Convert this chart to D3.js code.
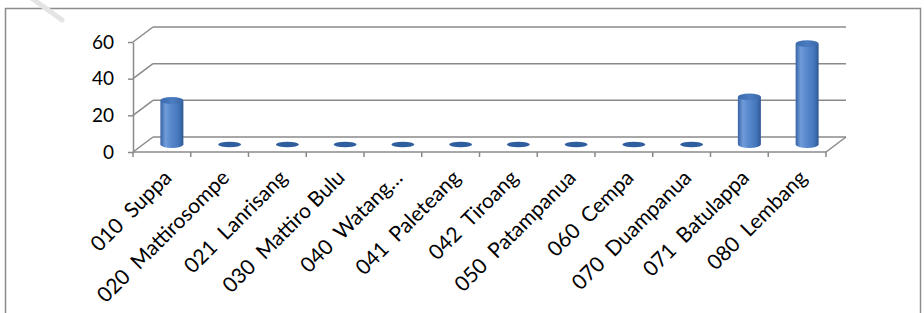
<!DOCTYPE html>
<html>
<head>
<meta charset="utf-8">
<script src="https://cdn.jsdelivr.net/npm/d3@7"></script>
<style>
  html, body { margin: 0; padding: 0; background: #fff; }
  svg { display: block; }
  text { font-family: Lato, "Open Sans", sans-serif; fill: #000; white-space: pre; }
</style>
</head>
<body>
<svg id="chart" width="924" height="313"></svg>
<script>
// ---- data ----
const categories = [
  "010  Suppa", "020  Mattirosompe", "021  Lanrisang", "030  Mattiro Bulu",
  "040  Watang\u2026", "041  Paleteang", "042  Tiroang", "050  Patampanua",
  "060  Cempa", "070  Duampanua", "071  Batulappa", "080  Lembang"
];
const values = [24, 0, 0, 0, 0, 0, 0, 0, 0, 0, 26, 55];
const yTicks = [0, 20, 40, 60];

// ---- layout ----
(function () {
const svg = d3.select("#chart");
const pLeft = 133, pRight = 826, pBottom = 152, pTop = 42;
const dx = 20, dy = -15; // depth offset
const x = d3.scaleBand().domain(categories).range([pLeft, pRight]).padding(0);
const xEdge = d3.scaleLinear().domain([0, categories.length]).range([pLeft, pRight]);
const y = d3.scaleLinear().domain([0, 60]).range([pBottom, pTop]);
const grid = "#8a8a8a";

// defs: gradients
const defs = svg.append("defs");
const gBody = defs.append("linearGradient").attr("id", "body").attr("x1", 0).attr("x2", 1).attr("y1", 0).attr("y2", 0);
[[0, "#3763a6"], [0.22, "#6f9bd8"], [0.45, "#5a8ace"], [0.8, "#4476bb"], [1, "#2f5892"]]
  .forEach(([o, c]) => gBody.append("stop").attr("offset", o).attr("stop-color", c));
const gTop = defs.append("linearGradient").attr("id", "cap").attr("x1", 0).attr("x2", 1).attr("y1", 0).attr("y2", 0);
[[0, "#3b6aad"], [0.5, "#4a7cc0"], [1, "#3a68a8"]]
  .forEach(([o, c]) => gTop.append("stop").attr("offset", o).attr("stop-color", c));

// frame
svg.append("rect").attr("x", 5.5).attr("y", 8.5).attr("width", 915).attr("height", 320)
  .attr("fill", "none").attr("stroke", "#8c8c8c").attr("stroke-width", 1.5);

// faint watermark streak
svg.append("line").attr("x1", 30).attr("y1", -3).attr("x2", 62).attr("y2", 20)
  .attr("stroke", "#e4e4e4").attr("stroke-width", 5).attr("stroke-linecap", "round");

// back wall gridlines + side wall diagonals
const g = svg.append("g").attr("stroke", grid).attr("stroke-width", 1.5).attr("fill", "none");
yTicks.forEach(v => {
  const yy = y(v);
  g.append("line").attr("x1", pLeft).attr("y1", yy).attr("x2", pLeft + dx).attr("y2", yy + dy);
  g.append("line").attr("x1", pLeft + dx).attr("y1", yy + dy).attr("x2", pRight + dx).attr("y2", yy + dy);
});
// floor front edge + right diagonal
g.append("line").attr("x1", pLeft).attr("y1", pBottom).attr("x2", pRight).attr("y2", pBottom);
g.append("line").attr("x1", pRight).attr("y1", pBottom).attr("x2", pRight + dx).attr("y2", pBottom + dy);
// category ticks
d3.range(categories.length + 1).forEach(i => {
  g.append("line").attr("x1", xEdge(i)).attr("y1", pBottom).attr("x2", xEdge(i)).attr("y2", pBottom + 5);
});

// y axis
const yAxis = svg.append("g").attr("transform", `translate(${pLeft},0)`)
  .call(d3.axisLeft(y).tickValues(yTicks).tickSize(5).tickSizeOuter(0).tickPadding(14));
yAxis.select(".domain").attr("stroke", grid).attr("stroke-width", 1.5);
yAxis.selectAll(".tick line").attr("stroke", grid).attr("stroke-width", 1.5);
yAxis.selectAll(".tick text").style("font-size", "19px").attr("fill", "#000")
  .style("font-family", "Lato, sans-serif");

// bars (cylinders at mid depth)
const rx = 11.5, ry = 3.4;
const bars = svg.append("g");
categories.forEach((c, i) => {
  const cx = x(c) + x.bandwidth() / 2 + dx / 2;
  const y0 = y(0) + dy / 2;
  const y1 = y(values[i]) + dy / 2;
  if (values[i] === 0) {
    bars.append("ellipse").attr("cx", cx).attr("cy", y0).attr("rx", rx).attr("ry", ry - 0.6)
      .attr("fill", "#2f5e9e");
  } else {
    bars.append("path")
      .attr("d", `M${cx - rx},${y1} L${cx - rx},${y0} A${rx},${ry} 0 0 0 ${cx + rx},${y0} L${cx + rx},${y1} Z`)
      .attr("fill", "url(#body)");
    bars.append("ellipse").attr("cx", cx).attr("cy", y1).attr("rx", rx).attr("ry", ry)
      .attr("fill", "url(#cap)");
  }
});

// category labels
const labels = svg.append("g");
categories.forEach(c => {
  const cx = x(c) + x.bandwidth() / 2;
  labels.append("text")
    .attr("transform", `translate(${cx + 11},${pBottom + 27}) rotate(-45)`)
    .attr("text-anchor", "end")
    .style("font-size", "21px")
    .text(c);
});
})();
</script>
</body>
</html>
